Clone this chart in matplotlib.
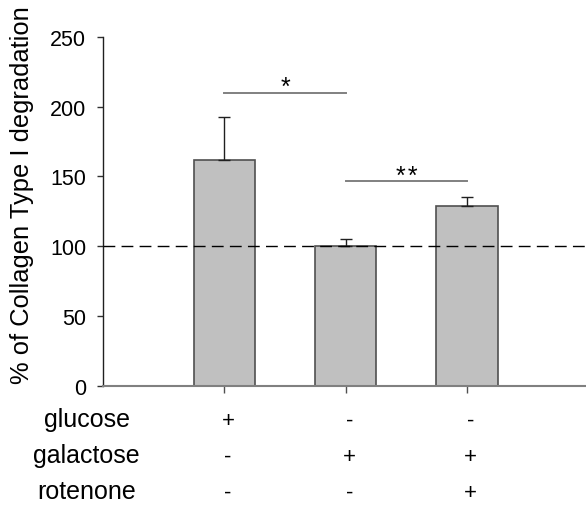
import matplotlib
matplotlib.use("Agg")
import matplotlib.pyplot as plt
import matplotlib.transforms as mtransforms

plt.rcParams['font.family'] = ['Liberation Sans', 'DejaVu Sans']

# Treatment groups and measurements
positions = [1, 2, 3]
means = [162, 100, 128.5]
errors = [30.5, 5, 7]
baseline = 100

row_names = ["glucose", "galactose", "rotenone"]
glucose = ["+", "-", "-"]
galactose = ["-", "+", "+"]
rotenone = ["-", "-", "+"]

# Significance brackets: (left group, right group, height, label)
brackets = [(1, 2, 210, "*"), (2, 3, 146.5, "*\u200a*")]

yticks = [0, 50, 100, 150, 200, 250]

fig = plt.figure(figsize=(5.86, 5.10), dpi=100)
ax = fig.add_axes([0.1758, 0.2418, 0.8262, 0.6837])

ax.bar(positions, means, width=0.504, color="#c0c0c0", edgecolor="#505050",
       linewidth=1.2, zorder=2)
ax.errorbar(positions, means, yerr=[[0] * len(errors), errors], fmt="none",
            ecolor="#202020", elinewidth=1.0, capsize=4, capthick=1.0, zorder=3)
ax.axhline(baseline, color="black", linestyle=(0, (8.5, 4.5)), linewidth=1.0,
           zorder=4)

for x0, x1, h, label in brackets:
    ax.plot([x0, x1], [h, h], color="#808080", linewidth=1.4, zorder=3)
    ax.text((x0 + x1) / 2, h - 1.0, label, ha="center", va="baseline",
            fontsize=18)

ax.set_xlim(0, 3.99)
ax.set_ylim(0, 250)
ax.set_yticks(yticks)
ax.set_xticks(positions)
ax.set_xticklabels([])
ax.tick_params(axis="y", direction="out", length=4, width=1.0, colors="#303030",
               labelcolor="black", labelsize=15.5, pad=8)
ax.tick_params(axis="x", direction="out", length=5, width=1.0, colors="#505050")
for side in ("top", "right"):
    ax.spines[side].set_visible(False)
ax.spines["left"].set_color("#202020")
ax.spines["bottom"].set_color("#808080")
ax.spines["left"].set_linewidth(1.0)
ax.spines["bottom"].set_linewidth(1.5)

fig.text(0.0375, 0.6176, "% of Collagen Type I degradation", rotation=90,
         ha="center", va="center", fontsize=18.4)

# Treatment table under the bars
trans = mtransforms.blended_transform_factory(ax.transData, fig.transFigure)
rows_y = [0.1627, 0.0922, 0.0216]
for name, marks, yy in zip(row_names, [glucose, galactose, rotenone], rows_y):
    fig.text(0.1480, yy, name, ha="center", va="baseline", fontsize=18)
    for x, m in zip(positions, marks):
        ax.text(x + 0.03, yy, m, ha="center", va="baseline", fontsize=16,
                transform=trans, clip_on=False)

fig.savefig("out.png", dpi=100)
